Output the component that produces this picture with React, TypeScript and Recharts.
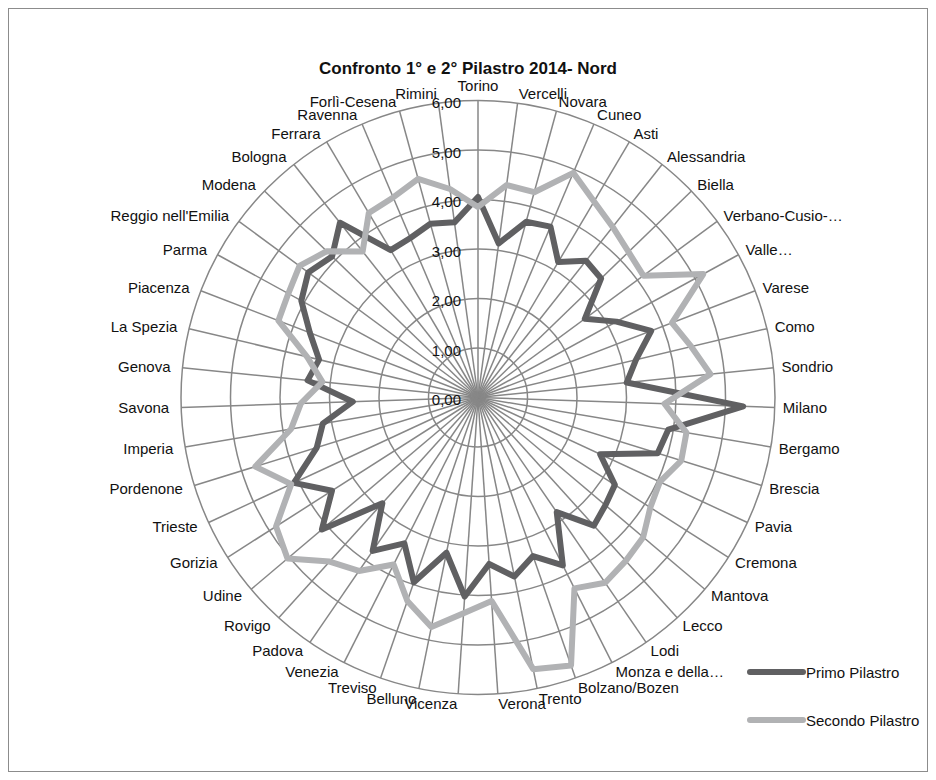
import React from 'react';
import { RadarChart, PolarGrid, PolarAngleAxis, PolarRadiusAxis, Radar } from 'recharts';

const province = [
  'Torino', 'Vercelli', 'Novara', 'Cuneo', 'Asti', 'Alessandria', 'Biella', 'Verbano-Cusio-…', 'Valle…',
  'Varese', 'Como', 'Sondrio', 'Milano', 'Bergamo', 'Brescia', 'Pavia', 'Cremona', 'Mantova', 'Lecco', 'Lodi',
  'Monza e della…', 'Bolzano/Bozen', 'Trento', 'Verona', 'Vicenza', 'Belluno', 'Treviso', 'Venezia', 'Padova',
  'Rovigo', 'Udine', 'Gorizia', 'Trieste', 'Pordenone', 'Imperia', 'Savona', 'Genova', 'La Spezia', 'Piacenza',
  'Parma', "Reggio nell'Emilia", 'Modena', 'Bologna', 'Ferrara', 'Ravenna', 'Forlì-Cesena', 'Rimini',
];

const primoPilastro = [
  4.05, 3.14, 3.68, 3.75, 3.18, 3.52, 3.46, 2.68, 3.19, 3.75, 3.28, 3.02, 5.36, 3.9, 3.8, 2.72,
  3.28, 3.37, 3.49, 2.81, 3.8, 3.39, 3.69, 3.37, 4.03, 3.2, 3.95, 3.3, 3.76, 2.88, 4.13, 3.5,
  4.1, 3.41, 3.18, 2.53, 3.46, 3.3, 3.64, 4.07, 4.26, 4.1, 4.5, 3.46, 3.5, 3.64, 3.57,
];

const secondoPilastro = [
  3.85, 4.33, 4.3, 4.93, 4.6, 4.39, 4.23, 4.15, 5.19, 4.2, 4.43, 4.72, 3.77, 4.27, 4.3, 4.05,
  4.13, 4.37, 4.45, 4.54, 4.32, 5.73, 5.6, 4.12, 4.37, 4.73, 4.35, 3.78, 4.25, 4.47, 5.04, 4.84,
  4.16, 4.71, 3.83, 3.58, 3.16, 3.55, 4.32, 4.37, 4.48, 4.25, 3.76, 4.33, 4.39, 4.58, 4.25,
];

const data = province.map((name, i) => ({
  name,
  primo: primoPilastro[i],
  secondo: secondoPilastro[i],
}));

const CX = 469;
const CY = 388.5;
const R = 297;
const FONT = '"Liberation Sans", Arial, sans-serif';
const DARK = '#606062';
const LIGHT = '#b1b2b4';
const GRID = '#878787';

// etichette delle province, fuori dal cerchio
function AngleTick(props: any) {
  const i = province.indexOf(props.payload.value);
  const t = (i * 2 * Math.PI) / province.length;
  const s = Math.sin(t);
  const c = Math.cos(t);
  const anchor = s > 0.05 ? 'start' : s < -0.05 ? 'end' : 'middle';
  const gap = s < -0.05 ? 12 : 8;
  const x = CX + (R + gap) * s;
  const y = anchor === 'middle' ? CY - (R + 15) * c : CY - (R + 8) * c - c * 2;
  return (
    <text x={x} y={y} textAnchor={anchor} dominantBaseline="central" fontSize={15} fontFamily={FONT} fill="#111">
      {props.payload.value}
    </text>
  );
}

function RadiusTick(props: any) {
  const { x, y, payload } = props;
  return (
    <text x={x - 17} y={y + 2} textAnchor="end" dominantBaseline="central" fontSize={15} fontFamily={FONT} fill="#111">
      {Number(payload.value).toFixed(2).replace('.', ',')}
    </text>
  );
}

function LegendRow({ color, label }: { color: string; label: string }) {
  return (
    <div style={{ display: 'flex', alignItems: 'center', height: 24, marginBottom: 24 }}>
      <svg width={60} height={10}>
        <line x1={4} y1={5} x2={57} y2={5} stroke={color} strokeWidth={6} strokeLinecap="round" />
      </svg>
      <span style={{ fontSize: 15, fontFamily: FONT, color: '#111' }}>{label}</span>
    </div>
  );
}

export default function App() {
  return (
    <div style={{ position: 'relative', width: 918, height: 762, border: '1px solid #8c8c8c', background: '#fff' }}>
      <div
        style={{
          position: 'absolute', top: 50, left: 0, width: '100%', textAlign: 'center',
          fontFamily: FONT, fontWeight: 'bold', fontSize: 17, lineHeight: '20px', color: '#111',
        }}
      >
        Confronto 1° e 2° Pilastro 2014- Nord
      </div>
      <RadarChart
        width={918}
        height={762}
        data={data}
        cx={CX}
        cy={CY}
        outerRadius={R}
        margin={{ top: 0, right: 0, bottom: 0, left: 0 }}
      >
        <PolarGrid gridType="circle" stroke={GRID} strokeWidth={1.5} />
        <PolarAngleAxis dataKey="name" tick={<AngleTick />} tickLine={false} axisLine={false} />
        <Radar
          name="Primo Pilastro"
          dataKey="primo"
          stroke={DARK}
          strokeWidth={6}
          strokeLinejoin="round"
          fill="none"
          fillOpacity={0}
          dot={false}
          isAnimationActive={false}
        />
        <Radar
          name="Secondo Pilastro"
          dataKey="secondo"
          stroke={LIGHT}
          strokeWidth={6}
          strokeLinejoin="round"
          fill="none"
          fillOpacity={0}
          dot={false}
          isAnimationActive={false}
        />
        <PolarRadiusAxis
          angle={90}
          domain={[0, 6]}
          tickCount={7}
          tick={<RadiusTick />}
          axisLine={false}
          tickLine={false}
        />
      </RadarChart>
      <div style={{ position: 'absolute', left: 737, top: 651 }}>
        <LegendRow color={DARK} label="Primo Pilastro" />
        <LegendRow color={LIGHT} label="Secondo Pilastro" />
      </div>
    </div>
  );
}
